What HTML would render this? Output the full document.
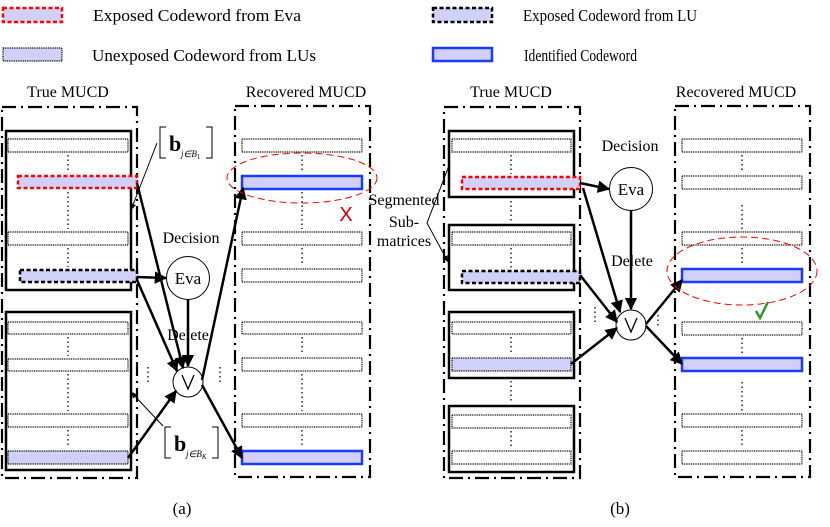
<!DOCTYPE html>
<html><head><meta charset="utf-8"><style>
html,body{margin:0;padding:0;background:#fff;}
svg{display:block;font-family:"Liberation Serif",serif;}
</style></head><body>
<svg width="830" height="527" viewBox="0 0 830 527" xmlns="http://www.w3.org/2000/svg">
<defs>
<marker id="ah" viewBox="0 0 10 10" refX="9" refY="5" markerWidth="5" markerHeight="5" orient="auto-start-reverse"><path d="M0,0 L10,5 L0,10 z" fill="#000"/></marker>
<marker id="ahs" viewBox="0 0 10 10" refX="9" refY="5" markerWidth="7" markerHeight="7" orient="auto-start-reverse"><path d="M0,1 L10,5 L0,9 z" fill="#000"/></marker>
</defs>
<!-- Legend -->
<rect x="3" y="8" width="59" height="14" fill="#d0d0f8" stroke="#f00" stroke-width="2.5" stroke-dasharray="4,2.5"/>
<text x="93" y="21" font-size="17" textLength="208" lengthAdjust="spacingAndGlyphs">Exposed  Codeword  from Eva</text>
<rect x="433" y="8" width="59" height="14" fill="#d0d0f8" stroke="#000" stroke-width="2.5" stroke-dasharray="4,2.5"/>
<text x="523" y="21" font-size="17" textLength="174" lengthAdjust="spacingAndGlyphs">Exposed Codeword  from LU</text>
<rect x="3" y="48" width="59" height="13" fill="#d0d0f8" stroke="#000" stroke-width="1.2" stroke-dasharray="1,0.8"/>
<text x="92" y="61" font-size="17" textLength="224" lengthAdjust="spacingAndGlyphs">Unexposed  Codeword from LUs</text>
<rect x="433" y="48" width="59" height="13" fill="#d0d0f8" stroke="#1a3cff" stroke-width="2.5"/>
<text x="524" y="61" font-size="17" textLength="113" lengthAdjust="spacingAndGlyphs">Identified Codeword</text>

<g font-size="16" text-anchor="middle">
<text x="68" y="97">True MUCD</text>
<text x="306" y="97">Recovered MUCD</text>
<text x="511" y="97">True MUCD</text>
<text x="736" y="97">Recovered MUCD</text>
<text x="191" y="243">Decision</text>
<text x="630" y="151">Decision</text>
<text x="188" y="340">Delete</text>
<text x="632" y="266">Delete</text>
<text x="182" y="514" font-size="17">(a)</text>
<text x="620" y="514" font-size="17">(b)</text>
<text x="404" y="205">Segmented</text>
<text x="404" y="227">Sub-</text>
<text x="404" y="246">matrices</text>
</g>

<!-- outer dash-dot frames -->
<g fill="none" stroke="#000" stroke-width="2.2" stroke-dasharray="14,5,2,5">
<rect x="2" y="107" width="135" height="371"/>
<rect x="235" y="106" width="135" height="371"/>
<rect x="444" y="107" width="136" height="371"/>
<rect x="675" y="106" width="135" height="371"/>
</g>
<!-- solid boxes -->
<g fill="none" stroke="#000" stroke-width="2.5">
<rect x="6" y="131" width="125" height="159"/>
<rect x="6" y="312" width="125" height="158"/>
<rect x="449" y="131" width="125" height="66"/>
<rect x="449" y="225" width="125" height="65"/>
<rect x="449" y="312" width="125" height="66"/>
<rect x="449" y="406" width="125" height="66"/>
</g>
<!-- dotted rows -->
<g fill="#fff" stroke="#000" stroke-width="1.2" stroke-dasharray="1,0.8">
<rect x="8" y="139" width="120" height="13"/>
<rect x="8" y="232" width="120" height="13"/>
<rect x="8" y="322" width="120" height="12"/>
<rect x="8" y="359" width="120" height="12"/>
<rect x="8" y="414" width="120" height="13"/>
<rect x="8" y="451" width="120" height="13" fill="#d0d0f8"/>
<rect x="242" y="139" width="120" height="13"/>
<rect x="242" y="232" width="120" height="13"/>
<rect x="242" y="269" width="120" height="13"/>
<rect x="242" y="322" width="120" height="12"/>
<rect x="242" y="358" width="120" height="13"/>
<rect x="242" y="414" width="120" height="13"/>
<rect x="452" y="139" width="119" height="13"/>
<rect x="452" y="232" width="119" height="13"/>
<rect x="452" y="322" width="119" height="12"/>
<rect x="452" y="358" width="119" height="13" fill="#d0d0f8"/>
<rect x="452" y="415" width="119" height="13"/>
<rect x="452" y="451" width="119" height="13"/>
<rect x="682" y="139" width="120" height="13"/>
<rect x="682" y="176" width="120" height="13"/>
<rect x="682" y="232" width="120" height="13"/>
<rect x="682" y="322" width="120" height="13"/>
<rect x="682" y="414" width="120" height="13"/>
<rect x="682" y="451" width="120" height="13"/>
</g>
<!-- exposed rows -->
<g fill="#d0d0f8" stroke-width="2.5" stroke-dasharray="4,2.5">
<rect x="18" y="176" width="119" height="12" stroke="#f00"/>
<rect x="20" y="270" width="117" height="12" stroke="#000"/>
<rect x="462" y="177" width="118" height="12" stroke="#f00"/>
<rect x="462" y="271" width="118" height="12" stroke="#000"/>
</g>
<!-- identified -->
<g fill="#d0d0f8" stroke="#1a3cff" stroke-width="2.5">
<rect x="242" y="176" width="120" height="13"/>
<rect x="242" y="451" width="120" height="13"/>
<rect x="682" y="269" width="120" height="13"/>
<rect x="682" y="358" width="120" height="13"/>
</g>
<!-- vertical dots -->
<g stroke="#000" stroke-width="1.3" stroke-dasharray="1.5,3">
<line x1="68" y1="155" x2="68" y2="172"/><line x1="68" y1="192" x2="68" y2="229"/><line x1="68" y1="248" x2="68" y2="267"/>
<line x1="68" y1="337" x2="68" y2="356"/><line x1="68" y1="374" x2="68" y2="411"/><line x1="68" y1="430" x2="68" y2="448"/>
<line x1="302" y1="155" x2="302" y2="172"/><line x1="302" y1="192" x2="302" y2="229"/><line x1="302" y1="248" x2="302" y2="266"/>
<line x1="302" y1="337" x2="302" y2="355"/><line x1="302" y1="374" x2="302" y2="411"/><line x1="302" y1="430" x2="302" y2="448"/>
<line x1="511" y1="155" x2="511" y2="174"/><line x1="511" y1="201" x2="511" y2="222"/><line x1="511" y1="248" x2="511" y2="268"/>
<line x1="511" y1="337" x2="511" y2="355"/><line x1="511" y1="381" x2="511" y2="403"/><line x1="511" y1="431" x2="511" y2="448"/>
<line x1="742" y1="155" x2="742" y2="173"/><line x1="742" y1="205" x2="742" y2="229"/><line x1="742" y1="248" x2="742" y2="266"/>
<line x1="742" y1="338" x2="742" y2="355"/><line x1="742" y1="382" x2="742" y2="411"/><line x1="742" y1="430" x2="742" y2="448"/>
<line x1="148" y1="367" x2="148" y2="383"/><line x1="220" y1="367" x2="220" y2="383"/>
<line x1="595" y1="307" x2="595" y2="324"/><line x1="658" y1="315" x2="658" y2="328"/>
</g>
<!-- circles -->
<g fill="#fff" stroke="#000" stroke-width="1">
<circle cx="188" cy="278" r="21.5"/><circle cx="188" cy="382" r="15"/>
<circle cx="631" cy="189" r="21.5"/><circle cx="631" cy="325" r="15"/>
</g>
<g font-size="17" text-anchor="middle">
<text x="188" y="284">Eva</text><text x="631" y="195">Eva</text>
</g>
<g fill="none" stroke="#000" stroke-width="1.3">
<path d="M182,375 L188,389 L194,375"/><path d="M625,318 L631,332 L637,318"/>
</g>
<!-- thick arrows -->
<g stroke="#000" stroke-width="2.5" fill="none" marker-end="url(#ah)">
<line x1="137" y1="183" x2="183" y2="368"/>
<line x1="137" y1="277" x2="166" y2="278"/>
<line x1="137" y1="280" x2="177" y2="371"/>
<line x1="128" y1="458" x2="176" y2="391"/>
<line x1="188" y1="300" x2="188" y2="366"/>
<line x1="202" y1="380" x2="243" y2="188"/>
<line x1="202" y1="385" x2="242" y2="458"/>
<line x1="580" y1="183" x2="609" y2="189"/>
<line x1="583" y1="188" x2="620" y2="312"/>
<line x1="580" y1="275" x2="617" y2="322"/>
<line x1="571" y1="364" x2="617" y2="328"/>
<line x1="631" y1="211" x2="631" y2="309"/>
<line x1="646" y1="324" x2="682" y2="280"/>
<line x1="646" y1="326" x2="682" y2="364"/>
</g>
<!-- thin arrows -->
<g stroke="#000" stroke-width="1" fill="none" marker-end="url(#ahs)">
<line x1="157" y1="143" x2="131" y2="210"/>
<line x1="163" y1="426" x2="131" y2="392"/>
<polyline points="450,163 427,223 448,262"/>
</g>
<!-- brackets -->
<g stroke="#000" stroke-width="1" fill="none">
<path d="M166,127 h-6 v31 h6"/><path d="M206,127 h6 v31 h-6"/>
<path d="M171,427 h-6 v31 h6"/><path d="M212,427 h6 v31 h-6"/>
</g>
<text x="169" y="151" font-size="22" font-weight="bold">b</text>
<text x="181" y="157" font-size="9" font-style="italic">j∈B<tspan font-size="7" font-style="normal" dy="2">1</tspan></text>
<text x="174" y="451" font-size="22" font-weight="bold">b</text>
<text x="186" y="457" font-size="9" font-style="italic">j∈B<tspan font-size="7" dy="2">K</tspan></text>
<!-- red ellipses -->
<ellipse cx="302" cy="178" rx="75" ry="25" fill="none" stroke="#f00" stroke-width="1" stroke-dasharray="7,4"/>
<ellipse cx="742" cy="271" rx="75" ry="34" fill="none" stroke="#f00" stroke-width="1" stroke-dasharray="7,4"/>
<text x="346" y="221" font-size="20" fill="#c00" text-anchor="middle" font-family="Liberation Sans, sans-serif">X</text>
<path d="M756,311 L760,318 L768,302" stroke="#2a9a2a" stroke-width="2.5" fill="none"/>
</svg>
</body></html>
